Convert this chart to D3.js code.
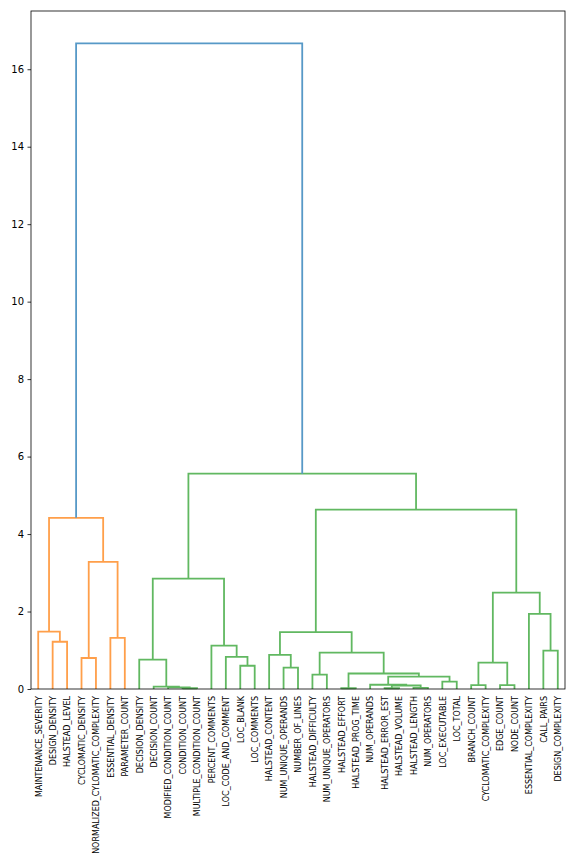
<!DOCTYPE html>
<html>
<head>
<meta charset="utf-8">
<script src="https://cdn.jsdelivr.net/npm/d3@7"></script>
<style>
  html, body { margin: 0; padding: 0; background: #fff; }
  svg { display: block; }
  text { font-family: "DejaVu Sans", sans-serif; }
</style>
</head>
<body>
<div id="chart"></div>
<script>
// ---- data ----
const leafLabels = [
  "MAINTENANCE_SEVERITY", "DESIGN_DENSITY", "HALSTEAD_LEVEL", "CYCLOMATIC_DENSITY",
  "NORMALIZED_CYLOMATIC_COMPLEXITY", "ESSENTIAL_DENSITY", "PARAMETER_COUNT",
  "DECISION_DENSITY", "DECISION_COUNT", "MODIFIED_CONDITION_COUNT", "CONDITION_COUNT",
  "MULTIPLE_CONDITION_COUNT", "PERCENT_COMMENTS", "LOC_CODE_AND_COMMENT", "LOC_BLANK",
  "LOC_COMMENTS", "HALSTEAD_CONTENT", "NUM_UNIQUE_OPERANDS", "NUMBER_OF_LINES",
  "HALSTEAD_DIFFICULTY", "NUM_UNIQUE_OPERATORS", "HALSTEAD_EFFORT", "HALSTEAD_PROG_TIME",
  "NUM_OPERANDS", "HALSTEAD_ERROR_EST", "HALSTEAD_VOLUME", "HALSTEAD_LENGTH",
  "NUM_OPERATORS", "LOC_EXECUTABLE", "LOC_TOTAL", "BRANCH_COUNT", "CYCLOMATIC_COMPLEXITY",
  "EDGE_COUNT", "NODE_COUNT", "ESSENTIAL_COMPLEXITY", "CALL_PAIRS", "DESIGN_COMPLEXITY"
];
// linkage rows: [childA, childB, height]; new cluster ids start at leafLabels.length (37)
const mergeLeft   = [10, 9, 8, 7, 14, 13, 12, 40, 1, 0, 3, 5, 47, 46, 17, 16, 19, 21, 24, 26, 55, 23, 28, 58, 54, 53, 52, 30, 32, 64, 35, 34, 66, 63, 44, 50];
const mergeRight  = [11, 37, 38, 39, 15, 41, 42, 43, 2, 45, 4, 6, 48, 49, 18, 51, 20, 22, 25, 27, 56, 57, 29, 59, 60, 61, 62, 31, 33, 65, 36, 67, 68, 69, 70, 71];
const mergeHeight = [0.02, 0.04, 0.06, 0.76, 0.60, 0.83, 1.12, 2.85, 1.22, 1.48, 0.80, 1.32, 3.28, 4.42, 0.55, 0.88, 0.37, 0.02, 0.02, 0.03, 0.09, 0.11, 0.19, 0.32, 0.40, 0.94, 1.47, 0.10, 0.10, 0.68, 0.99, 1.94, 2.49, 4.63, 5.56, 16.67];
const yTicks = [0, 2, 4, 6, 8, 10, 12, 14, 16];
const clusterPalette = ["#ff9f4a", "#61b861"];
const aboveColor = "#5799c7";

// ---- layout ----
const W = 576, H = 864;
const margin = { left: 31, right: 11, top: 11, bottom: 175 };
const n = leafLabels.length;
const maxH = d3.max(mergeHeight);

const x = d3.scaleLinear().domain([0, 10 * n]).range([margin.left, W - margin.right]);
const y = d3.scaleLinear().domain([0, maxH * 1.05]).range([H - margin.bottom, margin.top]);

const svg = d3.select("#chart").append("svg").attr("width", W).attr("height", H);

// node positions (data units)
const nodeX = [], nodeY = [], children = [];
for (let i = 0; i < n; i++) { nodeX[i] = 10 * i + 5; nodeY[i] = 0; }
mergeHeight.forEach((h, k) => {
  const id = n + k, a = mergeLeft[k], b = mergeRight[k];
  nodeX[id] = (nodeX[a] + nodeX[b]) / 2;
  nodeY[id] = h;
  children[id] = [a, b];
});

// colouring, scipy style: threshold 0.7*max
const threshold = 0.7 * maxH;
const nodeColor = [];
let paletteIdx = 0;
function paint(id, col) {
  nodeColor[id] = col;
  if (children[id]) children[id].forEach(c => paint(c, col));
}
function assign(id) {
  if (id < n) return;
  if (nodeY[id] > threshold) {
    nodeColor[id] = aboveColor;
    children[id].forEach(assign);
  } else {
    paint(id, clusterPalette[paletteIdx % clusterPalette.length]);
    paletteIdx++;
  }
}
const rootId = n + mergeHeight.length - 1;
assign(rootId);

// links
const g = svg.append("g");
mergeHeight.forEach((h, k) => {
  const id = n + k, a = mergeLeft[k], b = mergeRight[k];
  const pts = [[nodeX[a], nodeY[a]], [nodeX[a], h], [nodeX[b], h], [nodeX[b], nodeY[b]]];
  g.append("path")
    .attr("d", d3.line().x(d => x(d[0])).y(d => y(d[1]))(pts))
    .attr("fill", "none")
    .attr("stroke", nodeColor[id])
    .attr("stroke-width", 1.8);
});

// frame
svg.append("rect")
  .attr("x", x(0)).attr("y", y.range()[1])
  .attr("width", x(10 * n) - x(0)).attr("height", y(0) - y.range()[1])
  .attr("fill", "none").attr("stroke", "#000").attr("stroke-width", 0.8);

// y axis
const yAxis = d3.axisLeft(y).tickValues(yTicks).tickSize(3.5).tickPadding(3.5).tickFormat(d3.format("d"));
const ya = svg.append("g").attr("transform", `translate(${x(0)},0)`).call(yAxis);
ya.select(".domain").remove();
ya.selectAll("line").attr("stroke", "#000").attr("stroke-width", 0.8);
ya.selectAll("text").attr("font-size", 10).attr("fill", "#000").attr("font-family", "DejaVu Sans, sans-serif");

// x axis labels (tick marks hidden, as in scipy)
const xa = d3.axisBottom(x).tickValues(d3.range(n).map(i => 10 * i + 5))
  .tickSize(3.5).tickPadding(3.5).tickFormat((d, i) => leafLabels[i]);
const xg = svg.append("g").attr("transform", `translate(0,${y(0)})`).call(xa);
xg.select(".domain").remove();
xg.selectAll("line").remove();
xg.selectAll("text")
  .attr("font-size", 8).attr("fill", "#000").attr("font-family", "DejaVu Sans, sans-serif")
  .attr("text-anchor", "end")
  .attr("transform", "rotate(-90)")
  .attr("x", -7).attr("y", 0).attr("dy", "0.35em");
</script>
</body>
</html>
